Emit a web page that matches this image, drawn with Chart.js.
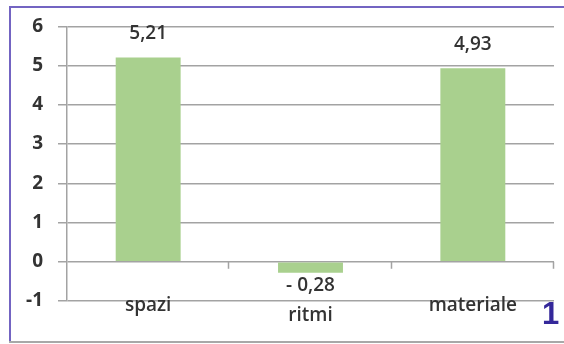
<!DOCTYPE html>
<html>
<head>
<meta charset="utf-8">
<script src="https://cdn.jsdelivr.net/npm/chart.js@4.4.1/dist/chart.umd.min.js"></script>
<style>
  html, body { margin: 0; padding: 0; background: #fff; }
  #wrap { position: relative; width: 564px; height: 344px; overflow: hidden; }
  #frameTop { position: absolute; left: 9px; top: 6px; right: 0; height: 2px; background: #7364c2; }
  #frameLeft { position: absolute; left: 9px; top: 6px; width: 2px; height: 337px; background: #7364c2; }
  #frameBottom { position: absolute; left: 9px; top: 341px; right: 0; height: 2px; background: #a8a8a8; }
  #figNum { position: absolute; left: 542px; top: 298px; font: bold 31px "Liberation Sans", Arial, sans-serif; color: #34289a; line-height: 1; }
  canvas { position: absolute; left: 0; top: 0; }
</style>
</head>
<body>
<div id="wrap">
  <canvas id="c" width="564" height="344"></canvas>
  <div id="frameTop"></div>
  <div id="frameLeft"></div>
  <div id="frameBottom"></div>
  <div id="figNum">1</div>
</div>
<script>
// Categories and their scores
const categories = ['spazi', 'ritmi', 'materiale'];
const scores = [5.21, -0.28, 4.93];
// Value axis range and step
const yMin = -1;
const yMax = 6;
const yStep = 1;

const barColor = '#a9d08e';
const gridColor = '#a3a3a3';
const textColor = '#333333';
const labelFont = '600 19px "Open Sans", Lato, sans-serif';

function fmt(v) {
  const s = Math.abs(v).toFixed(2).replace('.', ',');
  return v < 0 ? '- ' + s : s;
}

// Value labels above/below each bar, category names under the plot,
// and the small category separators on the zero line.
const decorations = {
  id: 'decorations',
  afterDatasetsDraw(chart) {
    const ctx = chart.ctx;
    const xs = chart.scales.x;
    const ys = chart.scales.y;
    const meta = chart.getDatasetMeta(0);
    ctx.save();
    ctx.fillStyle = textColor;
    ctx.font = labelFont;
    ctx.textAlign = 'center';
    ctx.textBaseline = 'middle';
    meta.data.forEach((bar, i) => {
      const v = scores[i];
      const y = v >= 0 ? bar.y - 23.5 : bar.y + 12.5;
      ctx.fillText(fmt(v), bar.x, y);
    });

    const baseY = ys.getPixelForValue(yMin);
    categories.forEach((name, i) => {
      const x = xs.getPixelForValue(i);
      const y = scores[i] < 0 ? baseY + 15 : baseY + 5;
      ctx.fillText(name, x, y);
    });

    const zeroY = ys.getPixelForValue(0);
    ctx.strokeStyle = gridColor;
    ctx.lineWidth = 1.5;
    const step = (xs.right - xs.left) / categories.length;
    for (let i = 1; i <= categories.length; i++) {
      const x = Math.round(xs.left + step * i) - 0.5;
      ctx.beginPath();
      ctx.moveTo(x, zeroY);
      ctx.lineTo(x, zeroY + 7);
      ctx.stroke();
    }
    ctx.restore();
  }
};

new Chart(document.getElementById('c'), {
  type: 'bar',
  data: {
    labels: categories,
    datasets: [{
      data: scores,
      backgroundColor: barColor,
      borderWidth: 0,
      barPercentage: 0.4,
      categoryPercentage: 1.0
    }]
  },
  options: {
    responsive: false,
    animation: false,
    devicePixelRatio: 1,
    layout: { padding: { left: 10, right: 10, top: 24, bottom: 43 } },
    plugins: { legend: { display: false }, tooltip: { enabled: false } },
    scales: {
      x: {
        display: false
      },
      y: {
        min: yMin,
        max: yMax,
        afterFit(scale) { scale.width = 57; },
        ticks: {
          stepSize: yStep,
          padding: 15,
          color: textColor,
          font: { family: '"Open Sans", Lato, sans-serif', size: 19, weight: 'bold' }
        },
        grid: {
          color: gridColor,
          lineWidth: 1.5,
          tickLength: 9,
          drawTicks: true
        },
        border: { display: true, color: gridColor, width: 1.5 }
      }
    }
  },
  plugins: [decorations]
});
</script>
</body>
</html>
